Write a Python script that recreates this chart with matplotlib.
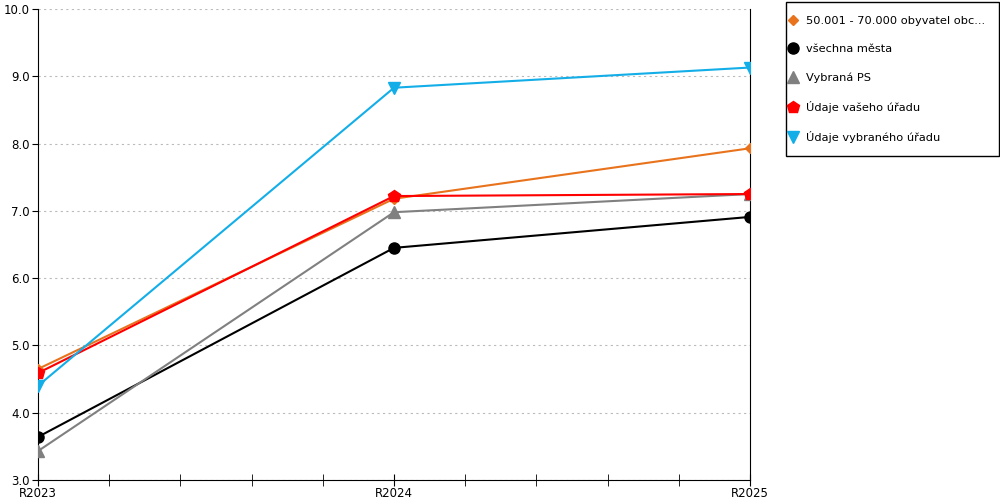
import matplotlib
matplotlib.use("Agg")
import matplotlib.pyplot as plt
from matplotlib.lines import Line2D
from matplotlib.patches import Rectangle
from matplotlib.ticker import MultipleLocator, AutoMinorLocator

years = ["R2023", "R2024", "R2025"]
obce_50_70 = [4.65, 7.18, 7.93]
vsechna_mesta = [3.64, 6.45, 6.91]
vybrana_ps = [3.43, 6.98, 7.25]
vas_urad = [4.59, 7.22, 7.25]
vybrany_urad = [4.40, 8.83, 9.13]

series = [
    ("50.001 - 70.000 obyvatel obc...", obce_50_70, "#e8731c", "D", 5),
    ("všechna města", vsechna_mesta, "#000000", "o", 8),
    ("Vybraná PS", vybrana_ps, "#808080", "^", 8),
    ("Údaje vašeho úřadu", vas_urad, "#ff0000", "p", 9),
    ("Údaje vybraného úřadu", vybrany_urad, "#13aee8", "v", 8),
]

plt.rcParams['font.family'] = ['DejaVu Sans']
plt.rcParams['font.size'] = 8.5

fig = plt.figure(figsize=(10, 5), dpi=100)
ax = fig.add_axes([0.038, 0.04, 0.712, 0.942])

x = list(range(len(years)))
handles = []
for name, vals, col, mk, ms in series:
    ax.plot(x, vals, color=col, marker=mk, markersize=ms, linewidth=1.5, zorder=3)
    handles.append(Line2D([], [], color=col, marker=mk, markersize=ms, linestyle='none', label=name))

ax.set_xlim(0, 2)
ax.set_ylim(3, 10)
ax.set_xticks(x)
ax.set_xticklabels(years)
ax.xaxis.set_minor_locator(AutoMinorLocator(5))
ax.yaxis.set_major_locator(MultipleLocator(1))
ax.yaxis.set_major_formatter(matplotlib.ticker.FormatStrFormatter('%.1f'))
ax.tick_params(axis='x', which='both', direction='inout', length=8, pad=1)
ax.tick_params(axis='y', length=4, pad=2)
ax.grid(axis='y', linestyle=(0, (2, 3)), color='#bbbbbb', linewidth=0.8)
ax.spines['top'].set_visible(False)
for s in ['left', 'bottom', 'right']:
    ax.spines[s].set_color('black')

# legend box drawn separately so its size matches
fig.patches.append(Rectangle((0.786, 0.688), 0.213, 0.308, transform=fig.transFigure,
                             facecolor='white', edgecolor='black', linewidth=1))
fig.legend(handles=handles, loc='upper left', bbox_to_anchor=(0.788, 0.968),
           frameon=False, fontsize=8.2,
           handletextpad=0.7, labelspacing=1.6, borderpad=0, handlelength=0.9,
           borderaxespad=0)

fig.savefig("out.png", dpi=100)
